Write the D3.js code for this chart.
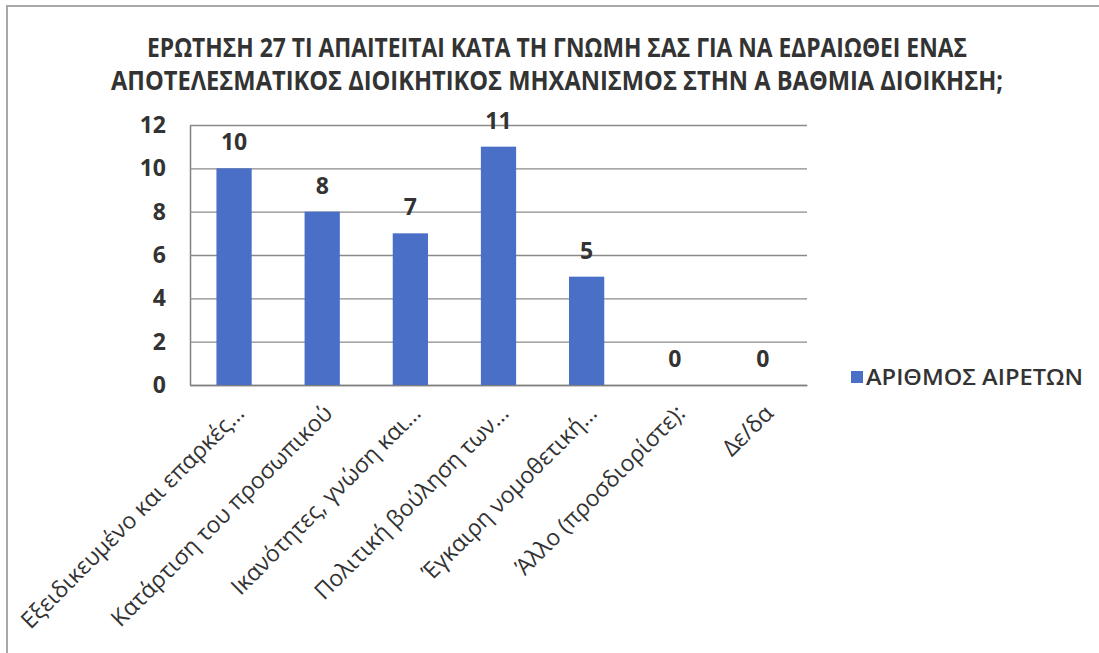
<!DOCTYPE html>
<html>
<head>
<meta charset="utf-8">
<script src="https://cdn.jsdelivr.net/npm/d3@7"></script>
<style>
  body { margin: 0; background: #fff; }
  svg { display: block; font-family: "Open Sans", "Noto Sans", sans-serif; }
</style>
</head>
<body>
<svg id="chart" width="1099" height="653"></svg>
<script>
// chart data
const categories = [
    "Εξειδικευμένο και επαρκές…",
    "Κατάρτιση του προσωπικού",
    "Ικανότητες, γνώση και…",
    "Πολιτική βούληση των…",
    "Έγκαιρη νομοθετική…",
    "Άλλο (προσδιορίστε):",
    "Δε/δα"
];
const values = [10, 8, 7, 11, 5, 0, 0];
const yTicks = [0, 2, 4, 6, 8, 10, 12];
const seriesName = "ΑΡΙΘΜΟΣ ΑΙΡΕΤΩΝ";
const titleLines = [
    "ΕΡΩΤΗΣΗ 27 ΤΙ ΑΠΑΙΤΕΙΤΑΙ ΚΑΤΑ ΤΗ ΓΝΩΜΗ ΣΑΣ ΓΙΑ ΝΑ ΕΔΡΑΙΩΘΕΙ ΕΝΑΣ",
    "ΑΠΟΤΕΛΕΣΜΑΤΙΚΟΣ ΔΙΟΙΚΗΤΙΚΟΣ ΜΗΧΑΝΙΣΜΟΣ ΣΤΗΝ Α ΒΑΘΜΙΑ ΔΙΟΙΚΗΣΗ;"
];

const margins = { top: 125, left: 190 };
const innerWidth = 617;
const innerHeight = 260;
const barColor = "#4A6FC6";
const textColor = "#333";

let chart = d3.select("#chart");

// outer frame (only top and left edges show in the scan)
chart.append("path")
    .attr("d", "M7,653 V6 H1099")
    .attr("fill", "none")
    .attr("stroke", "#a8a8a8")
    .attr("stroke-width", 2);

// title - squeezed to look like the condensed original
const titleWidths = [820, 892];
chart.selectAll(".title").data(titleLines)
    .enter()
    .append("text")
    .attr("class", "title")
    .attr("x", 557)
    .attr("y", (d, i) => 57 + i * 33)
    .attr("text-anchor", "middle")
    .attr("textLength", (d, i) => titleWidths[i])
    .attr("lengthAdjust", "spacingAndGlyphs")
    .attr("font-size", 27)
    .attr("font-weight", "bold")
    .attr("fill", textColor)
    .text(d => d);

let xscale = d3.scaleBand(categories, [0, innerWidth])
    .paddingInner(0.6)
    .paddingOuter(0.3);
let yscale = d3.scaleLinear([0, 12], [innerHeight, 0]);

let plot = chart.append("g")
    .attr("transform", `translate(${margins.left},${margins.top})`);

// y axis + gridlines
let yaxis = d3.axisLeft(yscale)
    .tickValues(yTicks)
    .tickSize(-innerWidth)
    .tickSizeOuter(0)
    .tickPadding(24);
let yg = plot.append("g").attr("class", "axis").call(yaxis);
yg.select(".domain").attr("stroke", "#808080").attr("stroke-width", 1.5);
yg.selectAll(".tick line").attr("stroke", "#8a8a8a").attr("stroke-width", 1.4);
yg.selectAll(".tick text")
    .attr("font-size", 23)
    .attr("font-weight", "bold")
    .attr("fill", textColor)
    .attr("font-family", "Open Sans");

// x axis labels
let xaxis = d3.axisBottom(xscale).tickSize(0).tickSizeOuter(0);
let xg = plot.append("g")
    .attr("class", "axis")
    .attr("transform", `translate(0,${innerHeight})`)
    .call(xaxis);
xg.select(".domain").attr("stroke", "#808080").attr("stroke-width", 1.5);
xg.selectAll(".tick text")
    .attr("font-size", 23)
    .attr("font-weight", 500)
    .attr("font-family", "Open Sans")
    .attr("fill", textColor)
    .attr("text-anchor", "end")
    .attr("y", 0)
    .attr("dy", "0.35em")
    .attr("transform", "translate(6,24) rotate(-45)");

// bars
plot.selectAll(".bars").data(values)
    .enter()
    .append("rect")
    .attr("class", "bars")
    .attr("x", (d, i) => xscale(categories[i]))
    .attr("y", d => yscale(d))
    .attr("width", xscale.bandwidth())
    .attr("height", d => innerHeight - yscale(d))
    .attr("fill", barColor);

// value labels
plot.selectAll(".vlabel").data(values)
    .enter()
    .append("text")
    .attr("class", "vlabel")
    .attr("x", (d, i) => xscale(categories[i]) + xscale.bandwidth() / 2)
    .attr("y", d => yscale(d) - 18)
    .attr("text-anchor", "middle")
    .attr("font-size", 23)
    .attr("font-weight", "bold")
    .attr("fill", textColor)
    .text(d => d);

// legend
let legend = chart.append("g").attr("transform", "translate(851,371)");
legend.append("rect")
    .attr("width", 12)
    .attr("height", 12)
    .attr("fill", barColor);
legend.append("text")
    .attr("x", 15)
    .attr("y", 6)
    .attr("dy", "0.35em")
    .attr("font-size", 22)
    .attr("font-weight", 600)
    .attr("fill", textColor)
    .attr("textLength", 217)
    .attr("lengthAdjust", "spacingAndGlyphs")
    .text(seriesName);
</script>
</body>
</html>
